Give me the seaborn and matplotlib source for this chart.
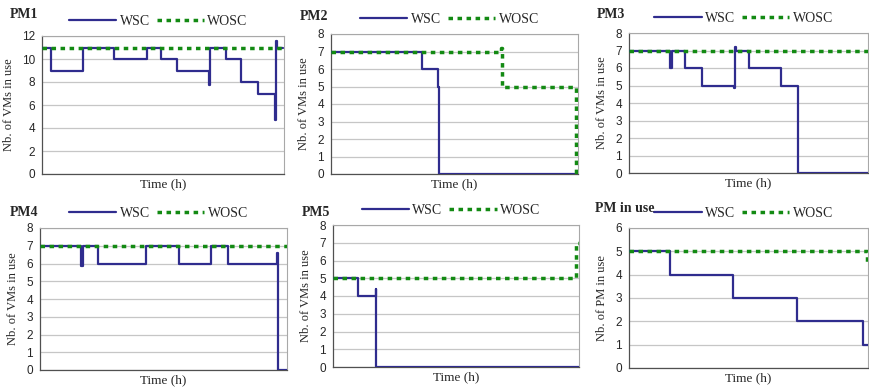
import numpy as np
import pandas as pd
import matplotlib
matplotlib.use("Agg")
import matplotlib.pyplot as plt
import seaborn as sns

# ======================
# DATA (time normalised to 0-100, step values)
# ======================
pm1_wsc_t = [0, 3.9, 17.0, 29.8, 43.2, 49.1, 55.6, 69.0, 69.4, 76.0, 82.2, 89.1, 96.3, 96.7, 97.0, 99.7]
pm1_wsc_v = [11, 9, 11, 10, 11, 10, 9, 7.7, 11, 10, 8, 7, 4.7, 11.6, 11, 11]
pm1_wosc_t = [0, 100]
pm1_wosc_v = [11, 11]

pm2_wsc_t = [0, 36.9, 43.4, 43.8, 100]
pm2_wsc_v = [7, 6, 5, 0, 0]
pm2_wosc_t = [0, 69.0, 69.4, 99.0, 100]
pm2_wosc_v = [7, 7.2, 5, 0, 0]

pm3_wsc_t = [0, 17.3, 17.9, 23.5, 30.7, 43.9, 44.2, 44.6, 50.4, 63.6, 70.6, 70.9, 100]
pm3_wsc_v = [7, 6, 7, 6, 5, 4.85, 7.2, 7, 6, 5, 1.8, 0, 0]
pm3_wosc_t = [0, 100]
pm3_wosc_v = [7, 7]

pm4_wsc_t = [0, 16.6, 17.3, 23.3, 43.1, 56.2, 69.4, 76.1, 96.1, 96.4, 100]
pm4_wsc_v = [7, 5.85, 7, 6, 7, 6, 7, 6, 6.6, 0, 0]
pm4_wosc_t = [0, 100]
pm4_wosc_v = [7, 7]

pm5_wsc_t = [0, 10.1, 17.3, 17.6, 100]
pm5_wsc_v = [5, 4, 4.4, 0, 0]
pm5_wosc_t = [0, 98.9, 100]
pm5_wosc_v = [5, 7, 7]

pmu_wsc_t = [0, 17.2, 43.6, 70.5, 97.9, 100]
pmu_wsc_v = [5, 4, 3, 2, 1, 1]
pmu_wosc_t = [0, 99.6, 100]
pmu_wosc_v = [5, 4.4, 4.4]

titles = ["PM1", "PM2", "PM3", "PM4", "PM5", "PM in use"]
ylabels = ["Nb. of VMs in use"] * 5 + ["Nb. of PM in use"]
ymaxes = [12, 8, 8, 8, 8, 6]
ysteps = [2, 1, 1, 1, 1, 1]

series = [
    (pm1_wsc_t, pm1_wsc_v, pm1_wosc_t, pm1_wosc_v),
    (pm2_wsc_t, pm2_wsc_v, pm2_wosc_t, pm2_wosc_v),
    (pm3_wsc_t, pm3_wsc_v, pm3_wosc_t, pm3_wosc_v),
    (pm4_wsc_t, pm4_wsc_v, pm4_wosc_t, pm4_wosc_v),
    (pm5_wsc_t, pm5_wsc_v, pm5_wosc_t, pm5_wosc_v),
    (pmu_wsc_t, pmu_wsc_v, pmu_wosc_t, pmu_wosc_v),
]

# ======================
# LAYOUT (pixel boxes: left, right, top, bottom) and title spots
# ======================
W, H = 870, 387
boxes = [(42, 284, 36, 174), (331, 578, 34, 174), (629, 868, 33, 173),
         (40, 287, 228, 370), (333, 579, 225, 367), (629, 868, 228, 368)]
title_pos = [(10, 15), (300, 17), (597, 15), (10, 212), (302, 212), (595, 209)]

BLUE = "#2f2c8e"
GREEN = "#138a13"

sns.set_style("white")
plt.rcParams["font.family"] = ["Liberation Serif", "DejaVu Serif"]

fig = plt.figure(figsize=(W / 100, H / 100), dpi=100)

for i, (wt, wv, ot, ov) in enumerate(series):
    l, r, t, b = boxes[i]
    ax = fig.add_axes([l / W, 1 - b / H, (r - l) / W, (b - t) / H])

    d_wsc = pd.DataFrame({"t": wt, "v": wv})
    d_wosc = pd.DataFrame({"t": ot, "v": ov})
    sns.lineplot(data=d_wosc, x="t", y="v", ax=ax, estimator=None, sort=False,
                 color=GREEN, lw=2.5, drawstyle="steps-post", label="WOSC",
                 dashes=False, zorder=2)
    sns.lineplot(data=d_wsc, x="t", y="v", ax=ax, estimator=None, sort=False,
                 color=BLUE, lw=1.6, drawstyle="steps-post", label="WSC", zorder=3)
    ax.lines[0].set_linestyle((0, (1.3, 1.3)))
    ax.lines[0].set_zorder(4)

    ax.set_xlim(0, 100)
    ax.set_ylim(0, ymaxes[i])
    ax.set_yticks(np.arange(0, ymaxes[i] + 0.1, ysteps[i]))
    ax.set_xticks([])
    ax.grid(axis="y", color="#c6c6c6", lw=0.9)
    ax.set_axisbelow(True)
    for s in ["top", "right"]:
        ax.spines[s].set_color("#a8a8a8")
        ax.spines[s].set_linewidth(0.8)
    for s in ["left", "bottom"]:
        ax.spines[s].set_color("#505050")
        ax.spines[s].set_linewidth(0.9)
    ax.tick_params(axis="y", direction="out", length=3, width=0.8, color="#505050",
                   pad=2, labelsize=8.5)
    for lab in ax.get_yticklabels():
        lab.set_fontfamily("Liberation Sans")

    ax.set_xlabel("Time (h)", fontsize=9.5, labelpad=3)
    ax.set_ylabel(ylabels[i], fontsize=9, labelpad=5)

    handles, labels = ax.get_legend_handles_labels()
    order = [labels.index("WSC"), labels.index("WOSC")]
    ax.legend([handles[k] for k in order], [labels[k] for k in order],
              loc="center", bbox_to_anchor=(0.48, 1.105), ncol=2, frameon=False,
              fontsize=10, handlelength=3.4, handletextpad=0.25, columnspacing=0.5,
              borderaxespad=0, borderpad=0)

    tx, ty = title_pos[i]
    fig.text(tx / W, 1 - ty / H, titles[i], fontsize=10, fontweight="bold",
             ha="left", va="center")

fig.savefig("out.png", dpi=100)
